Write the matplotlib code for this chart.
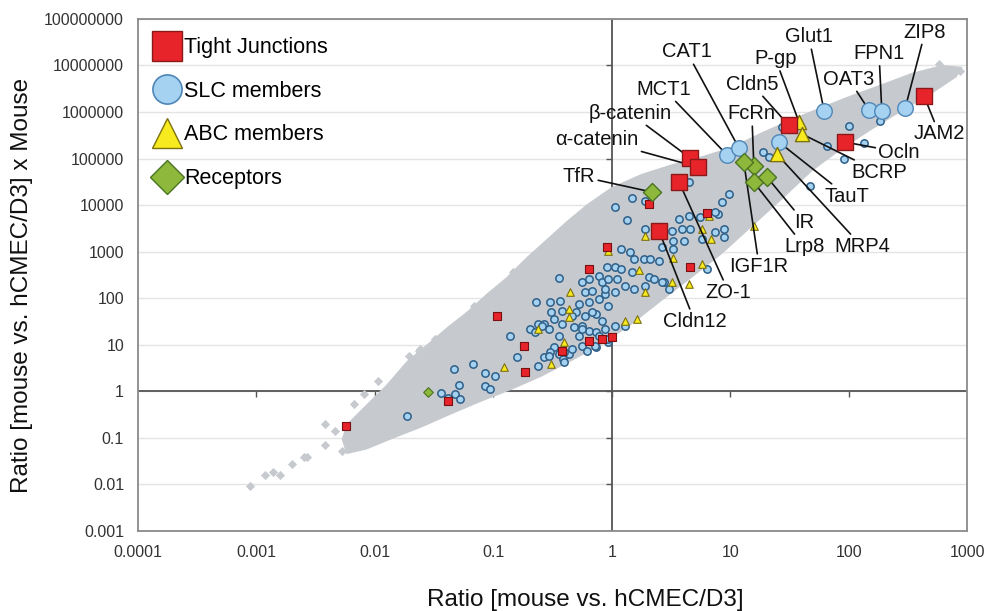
import matplotlib
matplotlib.use('Agg')
import matplotlib.pyplot as plt
from matplotlib.lines import Line2D
import numpy as np

plt.rcParams['font.family'] = ['Liberation Sans', 'DejaVu Sans']

# axis ticks
x_ticks = [0.0001, 0.001, 0.01, 0.1, 1, 10, 100, 1000]
x_tick_labels = ['0.0001', '0.001', '0.01', '0.1', '1', '10', '100', '1000']
y_ticks = [0.001, 0.01, 0.1, 1, 10, 100, 1000, 10000, 100000, 1000000, 10000000, 100000000]
y_tick_labels = ['0.001', '0.01', '0.1', '1', '10', '100', '1000', '10000', '100000',
                 '1000000', '10000000', '100000000']

# gray cloud of all proteins: outline (log10 values)
cloud_log10x = [-2.28, -2.24, -2.07, -1.90, -1.73, -1.56, -1.39, -1.22, -1.06, -0.89, -0.72,
                -0.55, -0.38, -0.21, 0.00, 0.25, 0.51, 0.76, 1.01, 1.27, 1.52, 1.77, 2.03,
                2.28, 2.53, 2.79, 2.96,
                2.91, 2.70, 2.45, 2.20, 1.94, 1.69, 1.44, 1.18, 0.93, 0.68, 0.42, 0.17,
                -0.08, -0.34, -0.59, -0.84, -1.10, -1.35, -1.60, -1.86, -2.07, -2.24]
cloud_log10y = [-1.03, -0.71, -0.28, 0.15, 0.65, 1.01, 1.38, 1.72, 2.09, 2.45, 2.88,
                3.27, 3.66, 4.02, 4.39, 4.67, 4.88, 5.05, 5.25, 5.57, 5.85, 6.11, 6.37,
                6.60, 6.84, 7.01, 6.97,
                6.75, 6.39, 6.02, 5.63, 5.20, 4.73, 4.13, 3.53, 2.95, 2.45, 1.94, 1.44,
                1.01, 0.65, 0.32, 0.04, -0.22, -0.49, -0.77, -1.03, -1.25, -1.35]
# loose gray points at the edges of the cloud
gray_log10x = [-3.05, -2.93, -2.86, -2.80, -2.70, -2.60, -2.57, -2.42, -2.42, -2.34, -2.28,
               -2.22, -2.18, -2.09, -1.97, -1.80, -1.71, -1.63, -1.49, -1.71, -1.62, -1.16,
               -0.83, -0.45, -0.34, -0.23, 2.76, 2.83, 2.94, 2.68, 2.56, 2.42, 2.28, 2.14]
gray_log10y = [-2.04, -1.79, -1.74, -1.79, -1.57, -1.42, -1.42, -1.16, -0.71, -0.86, -1.29,
               -1.18, -0.28, -0.06, 0.22, 0.26, 0.58, 0.86, 1.12, 0.75, 0.90, 1.83,
               2.56, 3.31, 3.55, 3.85, 7.03, 6.82, 6.88, 6.71, 6.34, 6.28, 5.85, 5.96]

# small (unlabelled) members, log10 values
slc_log10x = [-1.73, -1.33, -1.17, -1.29, -1.44, -1.38, -1.32, -1.28, -1.07, -0.99, -1.07, -1.03,
              -0.45, -0.64, -0.52, -0.44, -0.25, -0.19, -0.11, -0.08, -0.23, -0.17, -0.28, -0.19,
              -0.11, -0.06, -0.03, -0.42, -0.30, -0.23, -0.13, -0.08, -0.49, -0.57, -0.62, -0.69,
              -0.65, -0.53, -0.42, -0.32, -0.25, -0.19, -0.13, -0.06, -0.86, -0.45, -0.28, -0.49,
              -0.03, -0.80, -0.62, -0.57, -0.52, -0.45, -0.41, -0.36, -0.34, -0.25, -0.21, -0.13,
              -0.40, 0.17, 0.03, 0.13, 0.28, 0.65, 0.90, 0.57, 0.65, 0.59, 0.66, 0.51, 0.76, 0.87,
              0.95, 0.52, 0.61, 0.42, 0.52, 0.80, 0.93, 0.99, 0.08, 0.15, 0.19, 0.27, 0.32, 0.40,
              -0.04, 0.03, 0.08, 0.17, 0.31, 0.36, 0.44, -0.03, 0.04, 0.11, 0.19, 0.28, 0.48, 0.03,
              -0.06, 2.00, 1.82, 1.96, 2.13, 1.67, 1.28, 1.33, 1.44, 1.20, 2.26, 0.87, 0.95, 0.74,
              0.28, -0.59, -0.51, -0.34, -0.17, 0.42, -0.25, -0.40, -0.53, -0.11, 0.03, 0.11,
              -0.03, -0.14]
slc_log10y = [-0.54, 0.49, 0.58, 0.13, -0.04, -0.15, -0.06, -0.17, 0.39, 0.32, 0.11, 0.04,
              2.43, 1.91, 1.91, 1.94, 2.34, 2.41, 2.47, 2.34, 2.13, 2.15, 1.87, 1.91,
              1.98, 2.09, 1.83, 1.72, 1.70, 1.61, 1.66, 1.51, 1.55, 1.44, 1.44, 1.33,
              1.27, 1.33, 1.44, 1.38, 1.40, 1.29, 1.27, 1.33, 1.18, 1.18, 1.18, 0.95,
              1.05, 0.73, 0.54, 0.73, 0.84, 0.80, 0.69, 0.80, 0.90, 0.97, 0.86, 0.95,
              0.62, 4.15, 3.96, 3.68, 4.09, 4.49, 3.81, 3.70, 3.76, 3.48, 3.48, 3.44, 3.27, 3.42,
              3.31, 3.23, 3.23, 3.10, 3.05, 2.62, 4.06, 4.24, 3.05, 2.99, 2.84, 2.84, 2.84, 2.80,
              2.67, 2.67, 2.62, 2.56, 2.45, 2.41, 2.34, 2.41, 2.41, 2.26, 2.19, 2.26, 2.19, 2.13,
              2.19, 5.70, 5.27, 4.99, 5.33, 4.41, 5.14, 5.03, 5.68, 4.77, 5.81, 3.85, 3.48, 3.74,
              3.48, 1.40, 1.70, 1.61, 1.70, 2.34, 1.33, 0.84, 0.75, 1.18, 1.40, 1.40,
              1.12, 0.97]
abc_log10x = [-0.35, -0.36, -0.36, -0.62, -0.91, -0.51, 0.28, 0.52, 0.23, 0.84, 0.76, 0.76,
              0.51, 0.65, -0.03, 0.82, 1.20, 0.21, 0.28, -0.40, 0.11]
abc_log10y = [2.13, 1.76, 1.59, 1.33, 0.52, 0.58, 3.33, 2.86, 2.60, 3.27, 3.48, 2.73,
              2.34, 2.30, 3.01, 3.76, 3.55, 1.55, 2.13, 1.05, 1.51]
tj_log10x = [-2.24, -1.38, -0.97, -0.19, -0.74, -0.19, -0.08, -0.73, -0.42, 0.31, 0.66, -0.04,
             0.80, 0.00]
tj_log10y = [-0.75, -0.21, 1.61, 2.62, 0.97, 1.08, 1.12, 0.41, 0.86, 4.02, 2.67, 3.10,
             3.83, 1.16]
rec_log10x = [-1.55]
rec_log10y = [-0.02]

# labelled proteins
tj_names = ['JAM2', 'Ocln', 'Cldn5', '\u03b2-catenin', '\u03b1-catenin', 'ZO-1', 'Cldn12']
tj_x = [432, 93, 31, 4.6, 5.3, 3.7, 2.5]
tj_y = [2.2e6, 2.26e5, 5.25e5, 1.02e5, 6.6e4, 3.1e4, 2.8e3]
slc_names = ['MCT1', 'CAT1', 'Glut1', 'OAT3', 'FPN1', 'ZIP8', 'TauT']
slc_x = [9.4, 11.8, 62, 148, 190, 299, 25.7]
slc_y = [1.19e5, 1.7e5, 1.05e6, 1.1e6, 1.05e6, 1.2e6, 2.26e5]
abc_names = ['P-gp', 'BCRP', 'MRP4']
abc_x = [38, 40, 24.6]
abc_y = [6.1e5, 3.4e5, 1.26e5]
rec_names = ['TfR', 'FcRn', 'IGF1R', 'Lrp8', 'IR']
rec_x = [2.2, 15.8, 13, 15.8, 20.4]
rec_y = [1.9e4, 6.9e4, 8.4e4, 3.1e4, 4.0e4]

# where each label text sits
label_pos = {
    'Glut1': (46, 4.1e7), 'ZIP8': (440, 5.2e7), 'FPN1': (180, 1.8e7), 'OAT3': (100, 5.1e6),
    'CAT1': (4.3, 1.95e7), 'P-gp': (24, 1.4e7), 'MCT1': (2.75, 3.1e6), 'Cldn5': (15.2, 4.0e6),
    'FcRn': (15.2, 9.1e5), '\u03b2-catenin': (1.42, 9.5e5), '\u03b1-catenin': (0.75, 2.6e5),
    'TfR': (0.53, 4.2e4), 'JAM2': (580, 3.4e5), 'Ocln': (265, 1.38e5), 'BCRP': (180, 5.1e4),
    'TauT': (97, 1.56e4), 'IR': (42, 4.3e3), 'MRP4': (129, 1.3e3), 'Lrp8': (42, 1.3e3),
    'IGF1R': (17.5, 490), 'ZO-1': (9.7, 135), 'Cldn12': (5.0, 32),
}

red, red_e = '#e8242b', '#7a1010'
blue, blue_e = '#a5d2f0', '#2f5f88'
yel, yel_e = '#f7ea1e', '#7d7010'
grn, grn_e = '#8db83c', '#4a7420'
gray = '#c6c9ce'

fig = plt.figure(figsize=(9.85, 6.11), dpi=100)
ax = fig.add_axes([0.140, 0.131, 0.842, 0.838])
ax.set_xscale('log')
ax.set_yscale('log')
ax.set_xlim(1e-4, 1e3)
ax.set_ylim(1e-3, 1e8)

for yt in y_ticks:
    ax.axhline(yt, color='#e4e4e4', lw=1.0, zorder=0)
ax.axvline(1, color='#555555', lw=1.3, zorder=0.5)
ax.axhline(1, color='#555555', lw=1.3, zorder=0.5)
ax.plot(x_ticks[1:-1], [1] * 6, ls='none', marker=3, ms=4, color='#555555', zorder=0.5)
ax.plot([1] * 10, y_ticks[1:-1], ls='none', marker=0, ms=4, color='#555555', zorder=0.5)

ax.fill(10 ** np.array(cloud_log10x), 10 ** np.array(cloud_log10y), color=gray, lw=0, zorder=1)
ax.scatter(10 ** np.array(gray_log10x), 10 ** np.array(gray_log10y), marker='D', s=22,
           color=gray, lw=0, zorder=1)

ax.scatter(10 ** np.array(slc_log10x), 10 ** np.array(slc_log10y), marker='o', s=28,
           facecolor=blue, edgecolor=blue_e, lw=1.1, zorder=2)
ax.scatter(10 ** np.array(abc_log10x), 10 ** np.array(abc_log10y), marker='^', s=30,
           facecolor=yel, edgecolor=yel_e, lw=0.8, zorder=2)
ax.scatter(10 ** np.array(tj_log10x), 10 ** np.array(tj_log10y), marker='s', s=26,
           facecolor=red, edgecolor=red_e, lw=0.8, zorder=2)
ax.scatter(10 ** np.array(rec_log10x), 10 ** np.array(rec_log10y), marker='D', s=24,
           facecolor=grn, edgecolor=grn_e, lw=0.8, zorder=2)

groups = [(tj_names, tj_x, tj_y), (slc_names, slc_x, slc_y),
          (abc_names, abc_x, abc_y), (rec_names, rec_x, rec_y)]
for names, xs, ys in groups:
    for n, x, y in zip(names, xs, ys):
        ax.annotate(n, xy=(x, y), xytext=label_pos[n], fontsize=14.5, ha='center', va='center',
                    color='#111111', zorder=3,
                    arrowprops=dict(arrowstyle='-', color='#111111', lw=1.2,
                                    shrinkA=0, shrinkB=0))

ax.scatter(slc_x, slc_y, marker='o', s=125, facecolor=blue, edgecolor='#4f86b8', lw=1.0, zorder=4)
ax.scatter(abc_x, abc_y, marker='^', s=105, facecolor=yel, edgecolor=yel_e, lw=1.0, zorder=4)
ax.scatter(tj_x, tj_y, marker='s', s=125, facecolor=red, edgecolor='#8a1a1a', lw=1.0, zorder=4)
ax.scatter(rec_x, rec_y, marker='D', s=85, facecolor=grn, edgecolor=grn_e, lw=1.0, zorder=4)

handles = [
    Line2D([], [], ls='none', marker='s', ms=21, mfc=red, mec='#8a1a1a', mew=1.0),
    Line2D([], [], ls='none', marker='o', ms=21, mfc=blue, mec='#4f86b8', mew=1.2),
    Line2D([], [], ls='none', marker='^', ms=21, mfc=yel, mec=yel_e, mew=1.0),
    Line2D([], [], ls='none', marker='D', ms=17, mfc=grn, mec=grn_e, mew=1.0),
]
ax.legend(handles, ['Tight Junctions', 'SLC members', 'ABC members', 'Receptors'],
          loc='upper left', bbox_to_anchor=(-0.008, 1.0), frameon=False, fontsize=15.5,
          handletextpad=0.0, labelspacing=1.05, borderaxespad=0.45, handlelength=1.6)

ax.set_xticks(x_ticks)
ax.set_xticklabels(x_tick_labels)
ax.set_yticks(y_ticks)
ax.set_yticklabels(y_tick_labels)
ax.minorticks_off()
ax.tick_params(length=0, labelsize=11.5, labelcolor='#333333', pad=10)
for s in ax.spines.values():
    s.set_color('#8a8a8a')
    s.set_linewidth(1.3)

fig.text(585 / 985, 1 - 600 / 611, 'Ratio [mouse vs. hCMEC/D3]', fontsize=17.5,
         color='#111111', ha='center', va='center')
fig.text(22 / 985, 1 - 285 / 611, 'Ratio [mouse vs. hCMEC/D3] x Mouse', fontsize=17.5,
         color='#111111', ha='center', va='center', rotation=90)

fig.savefig('out.png', dpi=100)
